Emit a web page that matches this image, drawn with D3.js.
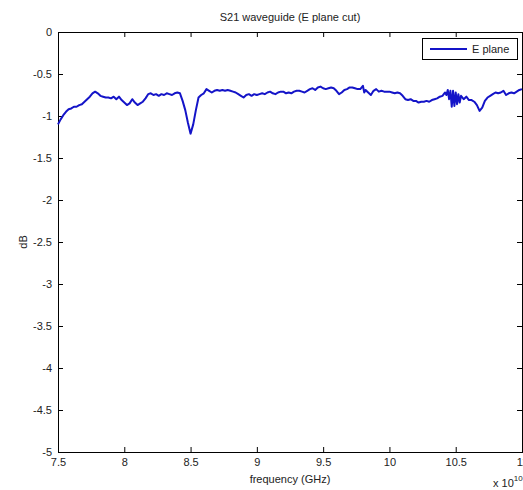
<!DOCTYPE html>
<html>
<head>
<meta charset="utf-8">
<script src="https://cdn.jsdelivr.net/npm/d3@7"></script>
<style>
  body { margin: 0; background: #fff; }
  svg { display: block; font-family: "Liberation Sans", Arial, sans-serif; }
  .axis text { font-size: 11px; fill: #222; }
  .axis path, .axis line { stroke: #000; }
</style>
</head>
<body>
<svg id="plot"></svg>
<script>
// frequency in units of 10^10 Hz
const freq = [
  7.50, 7.52, 7.54, 7.56, 7.58, 7.60, 7.62, 7.64, 7.66, 7.68, 7.70, 7.72, 7.74, 7.76, 7.78,
  7.80, 7.82, 7.84, 7.86, 7.88, 7.90, 7.92, 7.94, 7.96, 7.98, 8.00, 8.02, 8.04, 8.06, 8.08,
  8.10, 8.12, 8.14, 8.16, 8.18, 8.20, 8.22, 8.24, 8.26, 8.28, 8.30, 8.32, 8.34, 8.36, 8.38,
  8.40, 8.42, 8.44, 8.46, 8.48, 8.50, 8.52, 8.54, 8.56, 8.58, 8.60, 8.62, 8.64, 8.66, 8.68,
  8.70, 8.72, 8.74, 8.76, 8.78, 8.80, 8.82, 8.84, 8.86, 8.88, 8.90, 8.92, 8.94, 8.96, 8.98,
  9.00, 9.02, 9.04, 9.06, 9.08, 9.10, 9.12, 9.14, 9.16, 9.18, 9.20, 9.22, 9.24, 9.26, 9.28,
  9.30, 9.32, 9.34, 9.36, 9.38, 9.40, 9.42, 9.44, 9.46, 9.48, 9.50, 9.52, 9.54, 9.56, 9.58,
  9.60, 9.62, 9.64, 9.66, 9.68, 9.70, 9.72, 9.74, 9.76, 9.78, 9.80, 9.81, 9.82, 9.84, 9.86,
  9.88, 9.90, 9.92, 9.94, 9.96, 9.98, 10.00, 10.02, 10.04, 10.06, 10.08, 10.10, 10.12, 10.14,
  10.16, 10.18, 10.20, 10.22, 10.24, 10.26, 10.28, 10.30, 10.32, 10.34, 10.36, 10.38, 10.40,
  10.42, 10.43, 10.44, 10.45, 10.46, 10.47, 10.48, 10.49, 10.50, 10.51, 10.52, 10.53, 10.54,
  10.56, 10.58, 10.60, 10.62, 10.64, 10.66, 10.68, 10.70, 10.72, 10.74, 10.76, 10.78, 10.80,
  10.82, 10.84, 10.86, 10.88, 10.90, 10.92, 10.94, 10.96, 10.98, 11.00
];

const s21 = [
  -1.10, -1.04, -0.99, -0.95, -0.92, -0.91, -0.89, -0.89, -0.87, -0.86, -0.83, -0.80, -0.77, -0.73, -0.71,
  -0.73, -0.76, -0.77, -0.78, -0.78, -0.79, -0.77, -0.80, -0.77, -0.81, -0.84, -0.87, -0.85, -0.80, -0.84,
  -0.87, -0.85, -0.83, -0.79, -0.74, -0.73, -0.75, -0.74, -0.76, -0.74, -0.75, -0.73, -0.74, -0.75, -0.73,
  -0.72, -0.73, -0.82, -0.93, -1.08, -1.21, -1.10, -0.93, -0.78, -0.75, -0.73, -0.68, -0.70, -0.72, -0.70,
  -0.69, -0.70, -0.69, -0.70, -0.69, -0.70, -0.71, -0.72, -0.74, -0.76, -0.78, -0.75, -0.74, -0.76, -0.74,
  -0.75, -0.74, -0.73, -0.74, -0.72, -0.71, -0.73, -0.74, -0.72, -0.71, -0.71, -0.73, -0.72, -0.73, -0.71,
  -0.70, -0.70, -0.71, -0.72, -0.70, -0.68, -0.67, -0.69, -0.66, -0.65, -0.67, -0.68, -0.67, -0.66, -0.67,
  -0.70, -0.74, -0.72, -0.69, -0.68, -0.66, -0.66, -0.67, -0.68, -0.68, -0.64, -0.72, -0.69, -0.72, -0.75,
  -0.70, -0.68, -0.71, -0.70, -0.71, -0.71, -0.71, -0.72, -0.73, -0.72, -0.73, -0.76, -0.80, -0.81,
  -0.80, -0.82, -0.82, -0.84, -0.83, -0.83, -0.82, -0.83, -0.81, -0.80, -0.79, -0.77, -0.76,
  -0.72, -0.75, -0.69, -0.80, -0.70, -0.89, -0.70, -0.88, -0.72, -0.86, -0.74, -0.84, -0.76,
  -0.80, -0.77, -0.81, -0.81, -0.83, -0.87, -0.94, -0.90, -0.82, -0.78, -0.76, -0.74, -0.72,
  -0.73, -0.72, -0.70, -0.75, -0.73, -0.72, -0.73, -0.71, -0.69, -0.68
];

const xTicks = [7.5, 8, 8.5, 9, 9.5, 10, 10.5, 11];
const yTicks = [0, -0.5, -1, -1.5, -2, -2.5, -3, -3.5, -4, -4.5, -5];
const seriesName = "E plane";

const W = 523, H = 490;
const margin = { top: 32, right: 1, bottom: 38, left: 58 };
const width = W - margin.left - margin.right;
const height = H - margin.top - margin.bottom;

const svg = d3.select("#plot").attr("width", W).attr("height", H);
const g = svg.append("g").attr("transform", `translate(${margin.left},${margin.top})`);

const x = d3.scaleLinear().domain([7.5, 11]).range([0, width]);
const y = d3.scaleLinear().domain([-5, 0]).range([height, 0]);

const fmt = d => String(d);

// box with inward ticks on all four sides
g.append("g").attr("class", "axis")
  .attr("transform", `translate(0,${height})`)
  .call(d3.axisBottom(x).tickValues(xTicks).tickFormat(fmt).tickSize(-5).tickPadding(6));
g.append("g").attr("class", "axis")
  .call(d3.axisTop(x).tickValues(xTicks).tickFormat("").tickSize(-5));
g.append("g").attr("class", "axis")
  .call(d3.axisLeft(y).tickValues(yTicks).tickFormat(fmt).tickSize(-5).tickPadding(6));
g.append("g").attr("class", "axis")
  .attr("transform", `translate(${width},0)`)
  .call(d3.axisRight(y).tickValues(yTicks).tickFormat("").tickSize(-5));

g.selectAll(".axis path").attr("stroke-width", 1).attr("shape-rendering", "crispEdges");

const points = freq.map((f, i) => ({ f, v: s21[i] }));

g.append("path")
  .datum(points)
  .attr("fill", "none")
  .attr("stroke", "#1414c8")
  .attr("stroke-width", 2)
  .attr("stroke-linejoin", "round")
  .attr("d", d3.line().x(d => x(d.f)).y(d => y(d.v)));

// legend
const lg = g.append("g").attr("transform", `translate(${width - 100},6)`);
lg.append("rect")
  .attr("x", 0.5).attr("y", 0.5).attr("width", 95).attr("height", 21)
  .attr("fill", "#fff").attr("stroke", "#000");
lg.append("line")
  .attr("x1", 8).attr("x2", 45).attr("y1", 11).attr("y2", 11)
  .attr("stroke", "#1414c8").attr("stroke-width", 2);
lg.append("text")
  .attr("x", 50).attr("y", 15)
  .style("font-size", "11px").attr("fill", "#222")
  .text(seriesName);

// title and labels
svg.append("text")
  .attr("x", margin.left + width / 2).attr("y", 21)
  .attr("text-anchor", "middle")
  .style("font-size", "11px").attr("fill", "#222")
  .text("S21 waveguide (E plane cut)");

svg.append("text")
  .attr("x", margin.left + width / 2).attr("y", 483)
  .attr("text-anchor", "middle")
  .style("font-size", "11px").attr("fill", "#222")
  .text("frequency (GHz)");

svg.append("text")
  .attr("transform", `translate(27,${margin.top + height / 2}) rotate(-90)`)
  .attr("text-anchor", "middle")
  .style("font-size", "11px").attr("fill", "#222")
  .text("dB");

const mult = svg.append("text")
  .attr("x", 493).attr("y", 487)
  .style("font-size", "11px").attr("fill", "#222");
mult.append("tspan").text("x 10");
mult.append("tspan").attr("dy", -6).style("font-size", "8px").text("10");
</script>
</body>
</html>
